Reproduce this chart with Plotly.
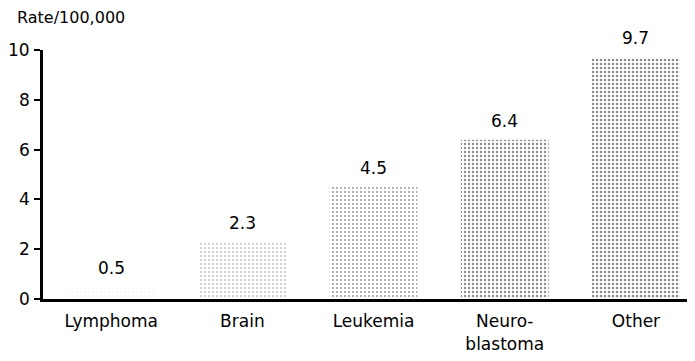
import plotly.graph_objects as go

categories = ["Lymphoma", "Brain", "Leukemia", "Neuro-<br>blastoma", "Other"]
rates = [0.5, 2.3, 4.5, 6.4, 9.7]
rate_labels = ["0.5", "2.3", "4.5", "6.4", "9.7"]
densities = [0.02, 0.1, 0.16, 0.27, 0.33]
y_ticks = [0, 2, 4, 6, 8, 10]
y_tick_labels = ["0", "2", "4", "6", "8", "10"]

FONT = "DejaVu Sans, Liberation Sans, Arial"

fig = go.Figure()
fig.add_trace(go.Bar(
    x=categories, y=rates,
    width=0.67,
    marker=dict(
        color="white",
        line=dict(width=0),
        pattern=dict(shape=".", fgcolor="#1a1a1a", bgcolor="white",
                     size=4, solidity=densities, fillmode="overlay"),
    ),
    hoverinfo="skip",
))

for c, v, t in zip(categories, rates, rate_labels):
    fig.add_annotation(x=c, y=v, text=t, showarrow=False, yshift=19,
                       font=dict(family=FONT, size=17, color="black"))

for v, t in zip(y_ticks, y_tick_labels):
    fig.add_annotation(xref="paper", x=0, y=v, text=t, showarrow=False,
                       xanchor="right", yanchor="middle", xshift=-11,
                       font=dict(family=FONT, size=17, color="black"))

fig.add_annotation(xref="paper", yref="paper", x=-0.043, y=1.0, yshift=33,
                   xanchor="left", yanchor="middle", showarrow=False,
                   text="Rate/100,000",
                   font=dict(family=FONT, size=16, color="black"))

fig.update_layout(
    width=695, height=361,
    margin=dict(l=35, r=8, t=42, b=70),
    paper_bgcolor="white", plot_bgcolor="white",
    showlegend=False,
    font=dict(family=FONT, size=16, color="black"),
)
fig.update_yaxes(range=[0, 10], tickvals=y_ticks, showticklabels=False,
                 automargin=False,
                 showline=True, linecolor="black", linewidth=2.5,
                 ticks="outside", ticklen=6, tickwidth=2, tickcolor="black",
                 showgrid=False, zeroline=False)
fig.update_xaxes(range=[-0.52, 4.45], automargin=False,
                 showline=True, linecolor="black", linewidth=3,
                 ticks="", showgrid=False,
                 ticklabelstandoff=5,
                 tickfont=dict(family=FONT, size=17))

fig.write_html("out.html")
